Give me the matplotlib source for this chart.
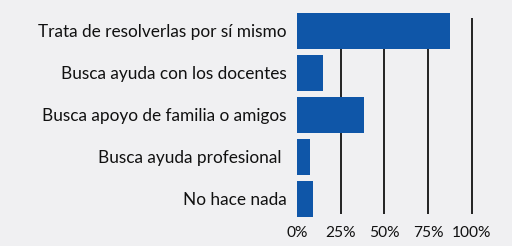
import matplotlib
matplotlib.use("Agg")
import matplotlib.pyplot as plt

categories = ["Trata de resolverlas por sí mismo", "Busca ayuda con los docentes",
              "Busca apoyo de familia o amigos", "Busca ayuda profesional ", "No hace nada"]
values = [87.4, 14.8, 38.4, 7.4, 9.3]
xticks = [0, 25, 50, 75, 100]
xticklabels = ["0%", "25%", "50%", "75%", "100%"]

bg = "#f0f0f2"
bar_color = "#0f56a8"
plt.rcParams['font.family'] = ['Lato', 'DejaVu Sans']

fig = plt.figure(figsize=(5.12, 2.46), dpi=100, facecolor=bg)
ax = fig.add_axes([296.7/512, 24/246, 203.3/512, 212/246], facecolor=bg)
pos = list(range(len(categories)))
ax.vlines(xticks[1:], -0.305, 4.37, color="#222222", linewidth=1.4, zorder=1)
ax.barh(pos, values, height=0.86, color=bar_color, zorder=2)
ax.set_xlim(0, 116)
ax.set_ylim(4.56, -0.5)
ax.set_yticks(pos)
ax.set_yticklabels(categories, fontsize=12.4, color="#111111")
ax.set_xticks(xticks)
ax.set_xticklabels(xticklabels, fontsize=11.2, color="#111111")
ax.tick_params(axis='both', length=0)
ax.tick_params(axis='y', pad=7.5)
ax.tick_params(axis='x', pad=3)
for s in ax.spines.values():
    s.set_visible(False)
fig.savefig("out.png", dpi=100, facecolor=bg)
